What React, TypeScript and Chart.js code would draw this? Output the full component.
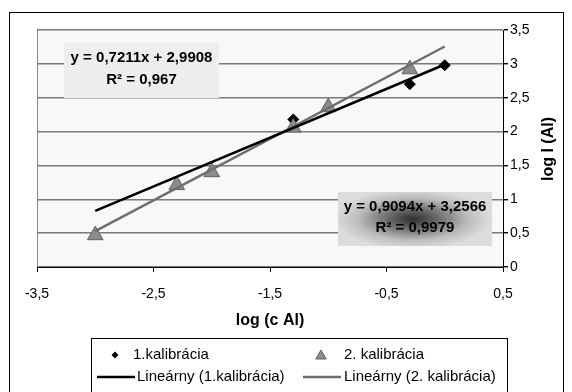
import { useEffect, useRef } from 'react';
import { Chart, registerables } from 'chart.js';

Chart.register(...registerables);

const FONT = '"Liberation Sans", Arial, Helvetica, sans-serif';

// 1. kalibrácia – measured points (log c, log I)
const cal1X = [-1.3, -0.3, 0];
const cal1Y = [2.18, 2.7, 2.98];

// 2. kalibrácia – measured points
const cal2X = [-3, -2.3, -2, -1.3, -1, -0.3];
const cal2Y = [0.47, 1.21, 1.4, 2.06, 2.36, 2.92];

// linear fits, as printed on the chart
const fit1Slope = 0.7211;
const fit1Intercept = 2.9908;
const fit1R2 = '0,967';
const fit2Slope = 0.9094;
const fit2Intercept = 3.2566;
const fit2R2 = '0,9979';
const fitFrom = -3;
const fitTo = 0;

// axis ranges
const xMin = -3.5;
const xMax = 0.5;
const xStep = 1;
const yMin = 0;
const yMax = 3.5;
const yStep = 0.5;

const seriesLabels = ['1.kalibrácia', '2. kalibrácia', 'Lineárny (1.kalibrácia)', 'Lineárny (2. kalibrácia)'];
const xTitle = 'log (c Al)';
const yTitle = 'log I (Al)';

const BLACK = '#000000';
const GRAY_LINE = '#6e6e6e';
const TRI_FILL = '#8c8c8c';
const TRI_EDGE = '#5e5e5e';

const comma = (v: number) => String(Math.round(v * 100) / 100).replace('.', ',');
const fmtNum = (v: number) => v.toFixed(4).replace('.', ',');
const equation = (m: number, b: number) => `y = ${fmtNum(m)}x + ${fmtNum(b)}`;

const pts = (xs: number[], ys: number[]) => xs.map((x, i) => ({ x, y: ys[i] }));
const fitLine = (m: number, b: number) => [
  { x: fitFrom, y: m * fitFrom + b },
  { x: fitTo, y: m * fitTo + b },
];

function drawDiamond(ctx: CanvasRenderingContext2D, x: number, y: number, r: number) {
  ctx.beginPath();
  ctx.moveTo(x, y - r);
  ctx.lineTo(x + r, y);
  ctx.lineTo(x, y + r);
  ctx.lineTo(x - r, y);
  ctx.closePath();
  ctx.fillStyle = BLACK;
  ctx.fill();
}

function drawTriangle(ctx: CanvasRenderingContext2D, x: number, y: number, r: number) {
  ctx.beginPath();
  ctx.moveTo(x, y - r);
  ctx.lineTo(x + r * 0.866, y + r / 2);
  ctx.lineTo(x - r * 0.866, y + r / 2);
  ctx.closePath();
  ctx.fillStyle = TRI_FILL;
  ctx.fill();
  ctx.strokeStyle = TRI_EDGE;
  ctx.lineWidth = 1;
  ctx.stroke();
}

const decorPlugin = {
  id: 'decor',
  beforeDraw(chart: any) {
    const { ctx, chartArea: a } = chart;
    ctx.save();
    ctx.fillStyle = '#ffffff';
    ctx.fillRect(0, 0, chart.width, chart.height);
    // plot area
    ctx.fillStyle = '#f8f8f8';
    ctx.fillRect(a.left, a.top, a.right - a.left, a.bottom - a.top);
    ctx.strokeStyle = '#8a8a8a';
    ctx.lineWidth = 1;
    ctx.beginPath();
    ctx.moveTo(a.left + 0.5, a.top);
    ctx.lineTo(a.left + 0.5, a.bottom);
    ctx.stroke();
    // outer chart frame
    ctx.strokeStyle = BLACK;
    ctx.strokeRect(9.5, 12.5, 554, 420);
    ctx.restore();
  },
  afterDraw(chart: any) {
    const { ctx } = chart;
    ctx.save();

    // equation box of the first fit
    ctx.fillStyle = '#eeeeee';
    ctx.fillRect(64, 43, 155, 55);
    ctx.fillStyle = BLACK;
    ctx.font = `bold 15px ${FONT}`;
    ctx.textAlign = 'center';
    ctx.textBaseline = 'middle';
    ctx.fillText(equation(fit1Slope, fit1Intercept), 141.5, 58);
    ctx.fillText(`R² = ${fit1R2}`, 141.5, 80);

    // equation box of the second fit, shaded
    const bx = 338, by = 192, bw = 154, bh = 54;
    ctx.fillStyle = '#dcdcdc';
    ctx.fillRect(bx, by, bw, bh);
    ctx.save();
    ctx.beginPath();
    ctx.rect(bx, by, bw, bh);
    ctx.clip();
    ctx.translate(413, 219);
    ctx.scale(2.6, 1);
    const g = ctx.createRadialGradient(0, 0, 0, 0, 0, 30);
    g.addColorStop(0, '#2e2e2e');
    g.addColorStop(0.3, '#666666');
    g.addColorStop(0.7, '#bcbcbc');
    g.addColorStop(1, '#dcdcdc');
    ctx.fillStyle = g;
    ctx.fillRect(-40, -30, 80, 60);
    ctx.restore();
    ctx.fillStyle = BLACK;
    ctx.font = `bold 15px ${FONT}`;
    ctx.textAlign = 'center';
    ctx.textBaseline = 'middle';
    ctx.fillText(equation(fit2Slope, fit2Intercept), 415, 207);
    ctx.fillText(`R² = ${fit2R2}`, 415, 228);

    // right-hand axis title, reading upward
    ctx.save();
    ctx.translate(549, 149);
    ctx.rotate(-Math.PI / 2);
    ctx.font = `bold 16px ${FONT}`;
    ctx.textAlign = 'center';
    ctx.textBaseline = 'middle';
    ctx.fillText(yTitle, 0, 0);
    ctx.restore();

    // legend
    ctx.strokeStyle = BLACK;
    ctx.lineWidth = 1;
    ctx.strokeRect(91.5, 338.5, 416, 80);
    ctx.font = `15px ${FONT}`;
    ctx.textAlign = 'left';
    ctx.textBaseline = 'middle';
    const r1 = 355, r2 = 377;
    drawDiamond(ctx, 115, r1, 3.5);
    ctx.fillStyle = BLACK;
    ctx.fillText(seriesLabels[0], 133, r1);
    drawTriangle(ctx, 321, r1 + 1, 6);
    ctx.fillStyle = BLACK;
    ctx.fillText(seriesLabels[1], 344, r1);
    ctx.lineWidth = 2.5;
    ctx.strokeStyle = BLACK;
    ctx.beginPath();
    ctx.moveTo(97, r2);
    ctx.lineTo(135, r2);
    ctx.stroke();
    ctx.fillText(seriesLabels[2], 137, r2);
    ctx.strokeStyle = GRAY_LINE;
    ctx.beginPath();
    ctx.moveTo(303, r2);
    ctx.lineTo(341, r2);
    ctx.stroke();
    ctx.fillText(seriesLabels[3], 344, r2);

    ctx.restore();
  },
};

export default function App() {
  const ref = useRef<HTMLCanvasElement>(null);

  useEffect(() => {
    if (!ref.current) return;
    const tickFont = { family: FONT, size: 14 };
    const chart = new Chart(ref.current, {
      type: 'scatter',
      data: {
        datasets: [
          {
            label: seriesLabels[2],
            data: fitLine(fit1Slope, fit1Intercept),
            showLine: true,
            borderColor: BLACK,
            borderWidth: 2.5,
            pointRadius: 0,
            order: 0,
          },
          {
            label: seriesLabels[3],
            data: fitLine(fit2Slope, fit2Intercept),
            showLine: true,
            borderColor: GRAY_LINE,
            borderWidth: 2.5,
            pointRadius: 0,
            order: 1,
          },
          {
            label: seriesLabels[1],
            data: pts(cal2X, cal2Y),
            pointStyle: 'triangle',
            pointRadius: 9,
            backgroundColor: TRI_FILL,
            borderColor: TRI_EDGE,
            borderWidth: 1,
            order: 2,
          },
          {
            label: seriesLabels[0],
            data: pts(cal1X, cal1Y),
            pointStyle: 'rectRot',
            pointRadius: 5.5,
            backgroundColor: BLACK,
            borderColor: BLACK,
            borderWidth: 1,
            order: 3,
          },
        ],
      },
      options: {
        responsive: false,
        devicePixelRatio: 1,
        animation: false,
        layout: { padding: { left: 37, top: 30, right: 0, bottom: 0 } },
        plugins: {
          legend: { display: false },
          tooltip: { enabled: false },
        },
        scales: {
          x: {
            type: 'linear',
            position: 'bottom',
            min: xMin,
            max: xMax,
            ticks: {
              stepSize: xStep,
              callback: (v: any) => comma(Number(v)),
              font: tickFont,
              color: BLACK,
              padding: 14,
              maxRotation: 0,
              autoSkip: false,
            },
            grid: {
              drawOnChartArea: false,
              drawTicks: true,
              tickLength: 5,
              tickColor: BLACK,
            },
            border: { display: true, color: BLACK, width: 1 },
            title: {
              display: true,
              text: xTitle,
              color: BLACK,
              font: { family: FONT, size: 16, weight: 'bold' },
              padding: { top: 0, bottom: 62 },
            },
            afterFit: (s: any) => {
              s.height = 125;
            },
          },
          y: {
            type: 'linear',
            position: 'right',
            min: yMin,
            max: yMax,
            ticks: {
              stepSize: yStep,
              callback: (v: any) => comma(Number(v)),
              font: tickFont,
              color: BLACK,
              padding: 2,
            },
            grid: {
              color: '#7a7a7a',
              lineWidth: 1.4,
              drawTicks: true,
              tickLength: 5,
              tickColor: BLACK,
            },
            border: { display: true, color: BLACK, width: 1 },
            afterFit: (s: any) => {
              s.width = 69;
            },
          },
        },
      },
      plugins: [decorPlugin],
    } as any);
    return () => chart.destroy();
  }, []);

  return (
    <div style={{ position: 'fixed', left: 0, top: 0, width: 572, height: 392, background: '#fff' }}>
      <canvas ref={ref} width={572} height={392} style={{ display: 'block', width: 572, height: 392 }} />
    </div>
  );
}
